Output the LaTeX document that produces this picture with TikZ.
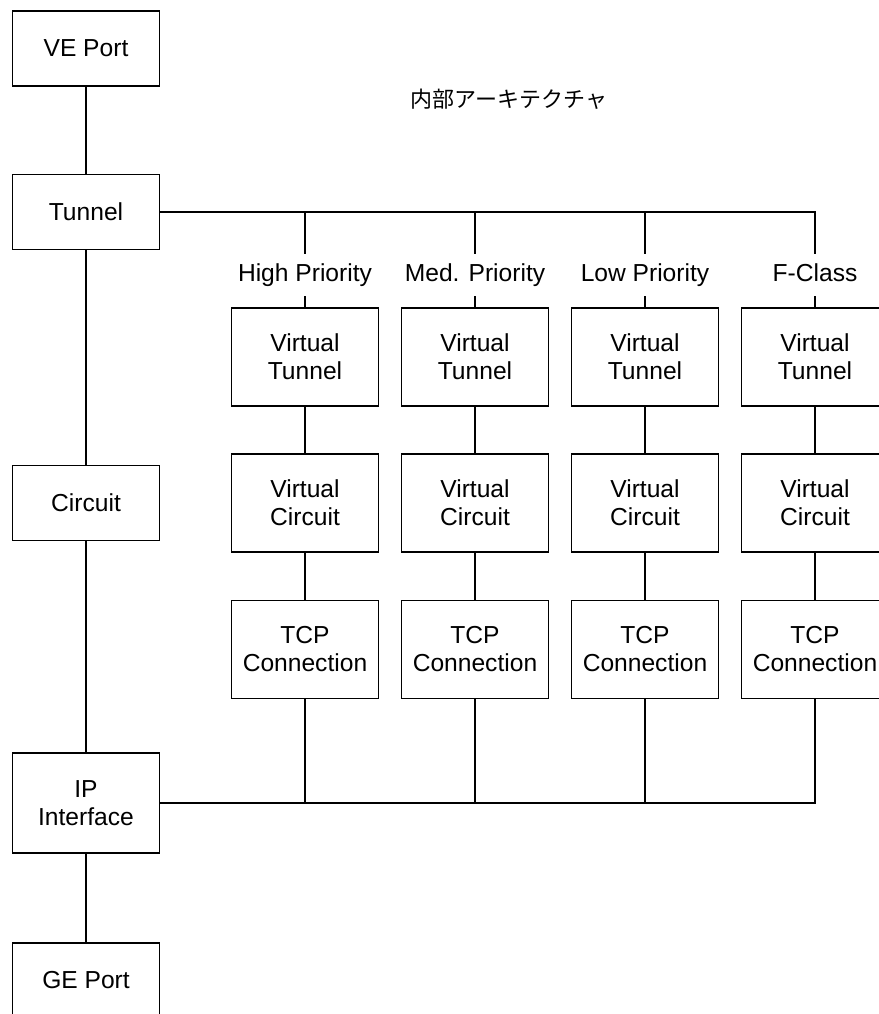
\documentclass[tikz,border=0pt]{standalone}
\usepackage{fontspec}
\setmainfont{Liberation Sans}
\newfontfamily\jpfont{Noto Sans CJK JP}

\begin{document}
\begin{tikzpicture}[x=0.5pt,y=-0.5pt,line width=0.9pt,
    box/.style={draw,minimum width=73.5pt,minimum height=37.5pt,inner sep=0pt,
        align=center,font=\fontsize{12.3}{14}\selectfont},
    tallbox/.style={box,minimum height=49pt},
    prio/.style={inner sep=0pt,minimum height=20.5pt,text height=8.8pt,text depth=2.6pt,
        font=\fontsize{12.3}{14}\selectfont}]
    \useasboundingbox (0,0) rectangle (879,1014);
    \clip (0,0) rectangle (879,1014);
    % left stack
    \node[box] (VEPort) at (86,48.5) {VE Port};
    \node[box] (Tunnel) at (86,212) {Tunnel};
    \node[box] (Circuit) at (86,503) {Circuit};
    \node[tallbox,minimum height=50pt] (IPIf) at (86,803) {IP\\Interface};
    \node[box] (GEPort) at (86,980.5) {GE Port};
    \draw (VEPort) -- (Tunnel) -- (Circuit) -- (IPIf) -- (GEPort);
    \node[font={\fontsize{11}{13}\selectfont\jpfont}] (Title) at (509,99) {内部アーキテクチャ};
    % one column per class
    \foreach \i/\name in {1/High Priority,2/Med. Priority,3/Low Priority,4/F-Class} {
        \pgfmathsetmacro\cx{135+170*\i}
        \node[prio] (Prio\i) at (\cx,275) {\name};
        \node[tallbox] (VT\i) at (\cx,357) {Virtual\\Tunnel};
        \node[tallbox] (VC\i) at (\cx,503) {Virtual\\Circuit};
        \node[tallbox] (TCP\i) at (\cx,649.5) {TCP\\Connection};
        \draw (Prio\i.north) -- (Prio\i.north |- Tunnel.east);
        \draw (Prio\i) -- (VT\i) -- (VC\i) -- (TCP\i) -- (TCP\i.south |- IPIf.east);
    }
    \draw (Tunnel.east) -| (Prio4.north);
    \draw (IPIf.east) -| (TCP4.south);
\end{tikzpicture}
\end{document}
